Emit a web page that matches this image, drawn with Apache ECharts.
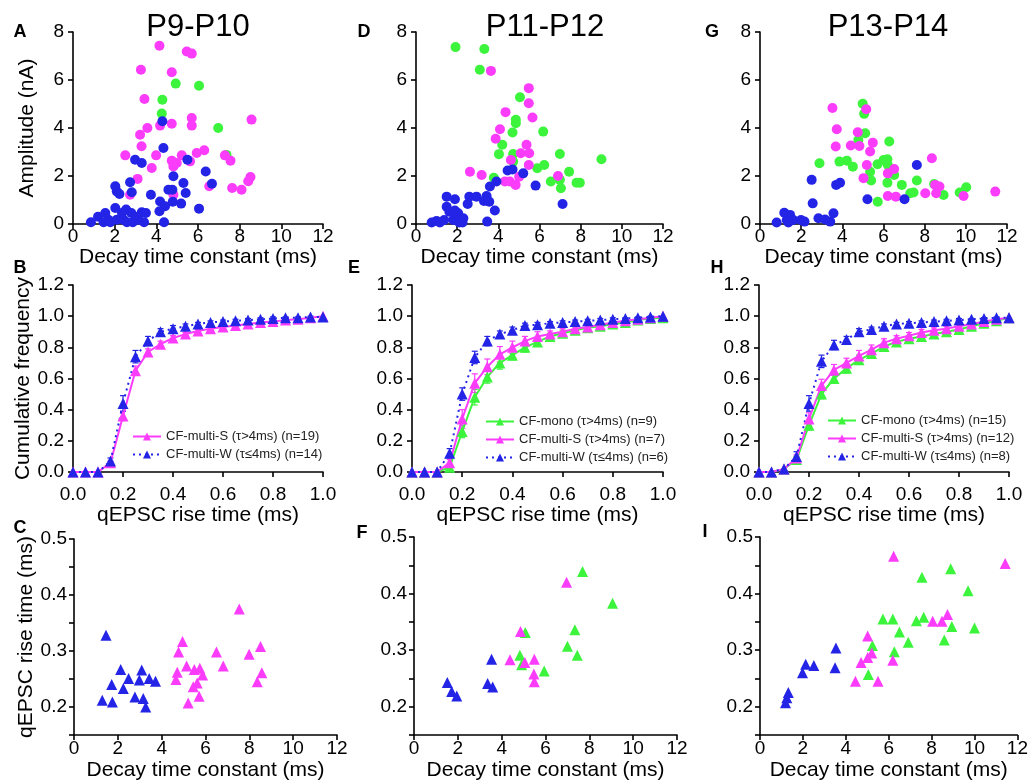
<!DOCTYPE html>
<html><head><meta charset="utf-8">
<script src="https://cdn.jsdelivr.net/npm/echarts@6/dist/echarts.min.js"></script>
<style>html,body{margin:0;padding:0;background:#fff}#chart{width:1031px;height:782px}</style>
</head><body><div id="chart"></div><script>
const FONT = '"Liberation Sans", Arial, Helvetica, sans-serif';
const BLUE = '#2424e6', MAGENTA = '#fb3cfb', GREEN = '#3cf43c';

const panelTitles = ['P9-P10', 'P11-P12', 'P13-P14'];
const decayName = 'Decay time constant (ms)';
const riseName = 'qEPSC rise time (ms)';

// ---------- Row 1: amplitude vs decay (circles) ----------
const A_blue = [[0.86,0.07],[1.2,0.3],[1.47,0.07],[1.55,0.46],[1.7,0.18],[1.79,0.07],[2.03,0.67],[2.03,1.57],[2.1,1.36],[2.23,1.25],[2.1,0.18],[2.35,0.46],[2.43,0.18],[2.55,0.6],[2.59,0.07],[2.74,1.74],[2.82,1.32],[2.8,0.46],[2.87,0.07],[2.98,2.68],[3.0,0.3],[3.14,0.18],[3.3,0.49],[3.3,2.54],[3.41,0.07],[3.5,0.46],[3.74,1.22],[4.18,0.94],[4.15,0.53],[4.29,4.28],[4.34,3.17],[4.37,0.07],[4.42,0.74],[4.58,1.43],[4.77,1.43],[4.82,1.99],[4.79,0.93],[5.19,0.85],[5.3,1.71],[5.41,1.29],[5.49,2.68],[6.05,0.64],[6.37,2.19],[6.67,1.68]];
const A_magenta = [[4.15,7.43],[5.46,7.19],[5.7,7.1],[3.26,6.43],[4.74,6.32],[3.43,5.21],[5.7,4.42],[5.7,4.1],[4.74,4.18],[4.18,4.1],[3.57,4.0],[3.22,3.72],[3.29,3.24],[2.51,2.86],[3.99,2.86],[3.78,2.33],[3.1,1.88],[2.74,1.22],[4.74,2.64],[4.98,2.54],[5.22,2.86],[4.82,2.4],[5.62,2.61],[5.94,2.96],[6.3,3.07],[7.29,2.86],[7.56,2.64],[8.57,4.35],[8.52,1.96],[8.41,1.78],[8.09,1.43],[7.64,1.5],[6.54,1.57],[4.82,1.22]];
const A_green = [[4.29,5.18],[4.26,4.6],[4.93,5.85],[6.05,5.76],[6.97,4.0],[7.37,2.88]];

const D_blue = [[0.76,0.06],[1.0,0.13],[1.16,0.06],[1.37,0.17],[1.49,1.14],[1.89,1.03],[1.49,0.72],[1.62,0.51],[1.89,0.56],[1.81,0.17],[2.05,0.45],[2.3,0.24],[2.26,0.06],[2.1,0.06],[2.51,0.83],[2.59,1.14],[2.94,1.14],[3.3,0.96],[3.43,1.17],[3.59,1.56],[3.56,0.93],[3.91,1.77],[3.83,0.56],[3.46,0.1],[4.45,2.23],[4.69,2.27],[5.21,2.11],[5.81,1.6],[7.12,0.83]];
const D_magenta = [[3.64,6.38],[5.48,5.66],[5.48,5.03],[5.66,4.44],[4.35,4.66],[4.08,3.95],[3.87,3.55],[5.37,3.3],[5.09,2.95],[5.5,2.95],[4.61,2.67],[5.48,2.46],[2.62,2.18],[3.19,2.04],[4.32,1.77],[4.56,1.77],[4.84,1.63],[5.01,1.97],[6.9,2.0]];
const D_green = [[1.92,7.37],[3.32,7.29],[3.1,6.43],[5.05,5.28],[4.85,4.2],[4.85,4.34],[4.69,3.81],[6.18,3.85],[4.19,3.3],[4.03,2.91],[4.72,2.92],[4.72,2.6],[5.89,2.32],[6.23,2.46],[6.99,2.92],[9.01,2.7],[7.44,2.18],[6.99,1.84],[7.04,1.49],[6.55,1.77],[7.8,1.72],[7.96,1.72],[3.78,1.93]];

const G_blue = [[0.81,0.06],[1.18,0.47],[1.3,0.17],[1.46,0.38],[1.62,0.17],[1.38,0.06],[1.99,0.17],[2.16,0.1],[2.51,1.84],[2.56,0.86],[2.84,0.24],[3.16,0.19],[3.41,0.1],[3.57,0.45],[3.7,1.63],[3.89,1.72],[5.22,1.03],[7.02,1.03],[7.62,2.46]];
const G_magenta = [[3.52,4.83],[3.73,3.95],[3.68,3.23],[4.41,3.27],[4.75,3.82],[4.83,3.25],[5.16,4.78],[5.48,3.39],[5.35,3.02],[5.19,2.46],[5.03,1.91],[6.21,2.11],[6.52,2.29],[8.35,2.74],[6.21,1.17],[6.6,1.14],[8.03,1.28],[8.56,1.28],[8.72,1.56],[8.51,1.63],[9.89,1.17],[11.43,1.35]];
const G_green = [[4.99,5.01],[5.06,4.59],[5.11,3.78],[4.78,3.5],[3.86,2.6],[2.89,2.53],[4.22,2.64],[4.51,2.39],[5.35,2.18],[5.4,1.81],[5.71,2.49],[6.0,2.67],[6.19,2.7],[6.21,2.46],[6.28,3.44],[6.52,2.04],[6.19,1.72],[5.72,0.93],[6.89,1.63],[7.3,1.28],[7.46,1.31],[7.62,1.81],[8.46,1.67],[8.92,1.21],[9.7,1.31],[10.02,1.53]];

// ---------- Row 2: cumulative frequency of rise time ----------
const cdfX = [0,0.05,0.1,0.15,0.2,0.25,0.3,0.35,0.4,0.45,0.5,0.55,0.6,0.65,0.7,0.75,0.8,0.85,0.9,0.95,1.0];
const B_S   = [0,0,0,0.06,0.36,0.65,0.77,0.82,0.86,0.885,0.905,0.92,0.93,0.94,0.95,0.96,0.965,0.975,0.98,0.99,1.0];
const B_Se  = [0,0,0,0.01,0.03,0.03,0.02,0.02,0.015,0.01,0.01,0.01,0.01,0.01,0.01,0.01,0.01,0.01,0.01,0.005,0];
const B_W   = [0,0,0,0.07,0.44,0.74,0.84,0.9,0.92,0.935,0.95,0.96,0.965,0.97,0.975,0.98,0.985,0.99,0.99,0.995,0.995];
const B_We  = [0,0,0,0.02,0.05,0.04,0.03,0.02,0.02,0.015,0.01,0.01,0.01,0.01,0.01,0.01,0.01,0.005,0.005,0.005,0];
const E_M   = [0,0,0,0.03,0.26,0.48,0.61,0.70,0.75,0.80,0.835,0.87,0.89,0.91,0.925,0.935,0.95,0.96,0.975,0.985,0.99];
const E_Me  = [0,0,0,0.01,0.04,0.05,0.04,0.04,0.03,0.03,0.02,0.02,0.02,0.02,0.02,0.015,0.01,0.01,0.01,0.01,0];
const E_S   = [0,0,0,0.06,0.34,0.57,0.675,0.755,0.80,0.84,0.87,0.885,0.90,0.92,0.93,0.945,0.96,0.97,0.98,0.99,1.0];
const E_Se  = [0,0,0,0.02,0.06,0.06,0.05,0.05,0.04,0.03,0.03,0.02,0.02,0.02,0.02,0.015,0.01,0.01,0.01,0.005,0];
const E_W   = [0,0,0,0.12,0.50,0.735,0.84,0.885,0.91,0.94,0.945,0.955,0.96,0.965,0.97,0.975,0.98,0.985,0.99,0.995,1.0];
const E_We  = [0,0,0,0.03,0.04,0.04,0.03,0.02,0.02,0.015,0.015,0.01,0.01,0.01,0.01,0.01,0.01,0.005,0.005,0.005,0];
const H_M   = [0,0,0.02,0.08,0.30,0.50,0.60,0.665,0.72,0.76,0.805,0.835,0.855,0.87,0.885,0.90,0.915,0.935,0.955,0.97,0.99];
const H_Me  = [0,0,0,0.02,0.03,0.03,0.03,0.03,0.03,0.025,0.02,0.02,0.02,0.02,0.015,0.015,0.01,0.01,0.01,0.01,0];
const H_S   = [0,0,0.02,0.09,0.34,0.555,0.655,0.70,0.745,0.785,0.83,0.855,0.875,0.895,0.91,0.92,0.935,0.95,0.965,0.98,0.99];
const H_Se  = [0,0,0,0.02,0.04,0.04,0.035,0.03,0.035,0.03,0.025,0.02,0.02,0.02,0.015,0.015,0.01,0.01,0.01,0.01,0];
const H_W   = [0,0,0.02,0.10,0.44,0.71,0.815,0.85,0.90,0.915,0.935,0.95,0.955,0.96,0.965,0.97,0.975,0.98,0.985,0.99,0.99];
const H_We  = [0,0,0,0.03,0.05,0.04,0.03,0.02,0.02,0.015,0.015,0.01,0.01,0.01,0.01,0.01,0.01,0.005,0.005,0.005,0];

const legendB = ['CF-multi-S (τ>4ms) (n=19)', 'CF-multi-W (τ≤4ms) (n=14)'];
const legendE = ['CF-mono (τ>4ms) (n=9)', 'CF-multi-S (τ>4ms) (n=7)', 'CF-multi-W (τ≤4ms) (n=6)'];
const legendH = ['CF-mono (τ>4ms) (n=15)', 'CF-multi-S (τ>4ms) (n=12)', 'CF-multi-W (τ≤4ms) (n=8)'];

// ---------- Row 3: rise time vs decay (triangles) ----------
const C_blue = [[1.46,0.328],[1.29,0.212],[1.75,0.209],[1.72,0.240],[2.13,0.267],[2.25,0.233],[2.49,0.251],[2.78,0.218],[2.98,0.248],[3.09,0.266],[3.16,0.215],[3.27,0.200],[3.43,0.251],[3.72,0.246]];
const C_magenta = [[4.95,0.317],[4.77,0.298],[4.71,0.262],[4.65,0.249],[5.14,0.273],[5.49,0.267],[5.74,0.269],[5.87,0.257],[5.62,0.243],[5.44,0.236],[5.21,0.207],[5.71,0.219],[6.5,0.298],[6.81,0.273],[7.54,0.375],[7.99,0.294],[8.51,0.308],[8.57,0.261],[8.36,0.245]];
const F_blue = [[1.52,0.243],[1.72,0.227],[1.95,0.219],[3.54,0.284],[3.36,0.241],[3.59,0.235]];
const F_magenta = [[4.86,0.333],[4.38,0.283],[5.06,0.278],[5.49,0.284],[5.47,0.258],[5.49,0.244],[6.96,0.420]];
const F_green = [[7.69,0.439],[9.06,0.383],[7.34,0.336],[7.0,0.307],[7.45,0.291],[5.94,0.263],[4.83,0.291],[4.91,0.274],[5.08,0.331]];
const I_blue = [[1.19,0.207],[1.25,0.216],[1.32,0.225],[1.98,0.260],[2.13,0.275],[2.51,0.273],[3.54,0.304],[3.5,0.269]];
const I_magenta = [[6.23,0.466],[11.43,0.453],[5.02,0.325],[4.71,0.278],[5.02,0.287],[5.21,0.295],[4.45,0.245],[5.5,0.245],[6.19,0.282],[8.05,0.351],[8.48,0.351],[8.74,0.363]];
const I_green = [[7.55,0.429],[8.89,0.444],[9.7,0.405],[5.73,0.355],[6.19,0.355],[7.29,0.352],[7.63,0.358],[6.5,0.332],[8.94,0.342],[10.0,0.339],[8.59,0.318],[6.91,0.314],[5.24,0.308],[6.26,0.297],[5.05,0.257]];

// ---------- layout ----------
const grids = [
  {left:73,  top:32,  width:250, height:192},  // A
  {left:416, top:32,  width:247, height:192},  // D
  {left:760, top:32,  width:247, height:192},  // G
  {left:73,  top:285, width:250, height:187},  // B
  {left:412, top:285, width:251, height:187},  // E
  {left:759, top:285, width:250, height:187},  // H
  {left:74,  top:539, width:263, height:198},  // C
  {left:414, top:537, width:263, height:200},  // F
  {left:760, top:537, width:263, height:200}   // I
];

function baseAxis(o) {
  return Object.assign({
    axisLine: {show:true, onZero:false, lineStyle:{color:'#000', width:1.6}},
    axisTick: {show:true, inside:false, length:5, lineStyle:{color:'#000', width:1.6}},
    splitLine: {show:false},
    nameLocation: 'middle',
    nameTextStyle: {color:'#000', fontSize:21, fontFamily:FONT}
  }, o);
}
const xLab = (m, fmt) => ({color:'#000', fontSize:19, fontFamily:FONT, margin:m, formatter:fmt, showMinLabel:true, showMaxLabel:true});
const yLab = (m, fmt) => ({color:'#000', fontSize:19, fontFamily:FONT, margin:m, formatter:fmt, showMinLabel:true, showMaxLabel:true});
const f1 = v => v.toFixed(1);
const fTenth = v => (Math.abs(v*10 - Math.round(v*10)) < 1e-6 ? v.toFixed(1) : '');

const xAxes = [], yAxes = [];
for (let i = 0; i < 9; i++) {
  const row = Math.floor(i / 3), col = i % 3;
  if (row === 0) {
    xAxes.push(baseAxis({gridIndex:i, type:'value', min:0, max:12, interval:2, axisLabel:xLab(3), name:decayName, nameGap:21}));
    yAxes.push(baseAxis({gridIndex:i, type:'value', min:0, max:8, interval:2, axisLabel:yLab(9), name: col===0 ? 'Amplitude (nA)' : '', nameGap:35}));
  } else if (row === 1) {
    xAxes.push(baseAxis({gridIndex:i, type:'value', min:0, max:1, interval:0.2, axisLabel:xLab(13, f1), name:riseName, nameGap:31}));
    yAxes.push(baseAxis({gridIndex:i, type:'value', min:0, max:1.2, interval:0.2, axisLabel:yLab(9, f1), name: col===0 ? 'Cumulative frequency' : '', nameGap:37}));
  } else {
    xAxes.push(baseAxis({gridIndex:i, type:'value', min:0, max:12, interval:2, axisLabel:xLab(4), name:decayName, nameGap:25}));
    yAxes.push(baseAxis({gridIndex:i, type:'value', min:0.15, max:0.5, interval:0.05, axisLabel:yLab(7, fTenth), name: col===0 ? riseName : '', nameGap:36}));
  }
}

const series = [];
function dots(name, idx, data, color) {
  series.push({name, type:'scatter', xAxisIndex:idx, yAxisIndex:idx, data, symbol:'circle', symbolSize:10,
    itemStyle:{color, opacity:1}, emphasis:{disabled:true}, z:2});
}
function tris(name, idx, data, color) {
  series.push({name, type:'scatter', xAxisIndex:idx, yAxisIndex:idx, data, symbol:'triangle', symbolSize:11,
    itemStyle:{color, opacity:1}, emphasis:{disabled:true}, z:2});
}
function errRender(params, api) {
  const x = api.value(0), y = api.value(1), e = api.value(2);
  const hi = api.coord([x, y + e]), lo = api.coord([x, y - e]);
  const w = 3, st = {stroke: api.visual('color'), lineWidth: 1.2};
  return {type:'group', children:[
    {type:'line', shape:{x1:hi[0], y1:hi[1], x2:lo[0], y2:lo[1]}, style:st},
    {type:'line', shape:{x1:hi[0]-w, y1:hi[1], x2:hi[0]+w, y2:hi[1]}, style:st},
    {type:'line', shape:{x1:lo[0]-w, y1:lo[1], x2:lo[0]+w, y2:lo[1]}, style:st}
  ]};
}
function cdf(name, idx, ys, errs, color, dotted) {
  series.push({name:name + ' err', type:'custom', xAxisIndex:idx, yAxisIndex:idx, renderItem:errRender,
    itemStyle:{color}, data: cdfX.map((x, k) => [x, ys[k], errs[k]]).filter(d => d[2] > 0), z:3, silent:true});
  series.push({name, type:'line', xAxisIndex:idx, yAxisIndex:idx, data: cdfX.map((x, k) => [x, ys[k]]),
    symbol:'triangle', symbolSize:11, showSymbol:true, clip:false,
    lineStyle:{color, width:2, type: dotted ? [2, 4] : 'solid'}, itemStyle:{color},
    emphasis:{disabled:true}, z:4});
}

// Row 1
dots('A green', 0, A_green, GREEN); dots('A magenta', 0, A_magenta, MAGENTA); dots('A blue', 0, A_blue, BLUE);
dots('D green', 1, D_green, GREEN); dots('D magenta', 1, D_magenta, MAGENTA); dots('D blue', 1, D_blue, BLUE);
dots('G green', 2, G_green, GREEN); dots('G magenta', 2, G_magenta, MAGENTA); dots('G blue', 2, G_blue, BLUE);
// Row 2
cdf(legendB[0], 3, B_S, B_Se, MAGENTA, false);
cdf(legendB[1], 3, B_W, B_We, BLUE, true);
cdf(legendE[0], 4, E_M, E_Me, GREEN, false);
cdf(legendE[1], 4, E_S, E_Se, MAGENTA, false);
cdf(legendE[2], 4, E_W, E_We, BLUE, true);
cdf(legendH[0], 5, H_M, H_Me, GREEN, false);
cdf(legendH[1], 5, H_S, H_Se, MAGENTA, false);
cdf(legendH[2], 5, H_W, H_We, BLUE, true);
// Row 3
tris('C magenta', 6, C_magenta, MAGENTA); tris('C blue', 6, C_blue, BLUE);
tris('F green', 7, F_green, GREEN); tris('F magenta', 7, F_magenta, MAGENTA); tris('F blue', 7, F_blue, BLUE);
tris('I green', 8, I_green, GREEN); tris('I magenta', 8, I_magenta, MAGENTA); tris('I blue', 8, I_blue, BLUE);

function legend(data, left, top) {
  return {data, orient:'vertical', left, top, itemWidth:28, itemHeight:10, itemGap:5, padding:0,
    textStyle:{color:'#222', fontSize:13, fontFamily:FONT}, selectedMode:false};
}

const titleDefs = [
  {text:panelTitles[0], x:198, y:12, size:31, bold:false},
  {text:panelTitles[1], x:545, y:12, size:31, bold:false},
  {text:panelTitles[2], x:888, y:12, size:31, bold:false},
  {text:'A', x:20, y:23, size:18, bold:true}, {text:'D', x:364, y:23, size:18, bold:true}, {text:'G', x:712, y:23, size:18, bold:true},
  {text:'B', x:20, y:259, size:18, bold:true}, {text:'E', x:354, y:259, size:18, bold:true}, {text:'H', x:717, y:259, size:18, bold:true},
  {text:'C', x:20, y:519, size:18, bold:true}, {text:'F', x:362, y:524, size:18, bold:true}, {text:'I', x:705, y:523, size:18, bold:true}
];

const option = {
  backgroundColor:'#fff',
  animation:false,
  title: titleDefs.map(t => ({text:t.text, left:t.x, top:t.y, textAlign:'center', padding:0,
    textStyle:{color:'#000', fontSize:t.size, fontWeight: t.bold ? 'bold' : 'normal', fontFamily:FONT}})),
  grid: grids,
  xAxis: xAxes,
  yAxis: yAxes,
  legend: [legend(legendB, 132, 430), legend(legendE, 485, 415), legend(legendH, 827, 414)],
  series
};
const chart = echarts.init(document.getElementById('chart'), null, {renderer:'canvas'});
chart.setOption(option);
</script></body></html>
